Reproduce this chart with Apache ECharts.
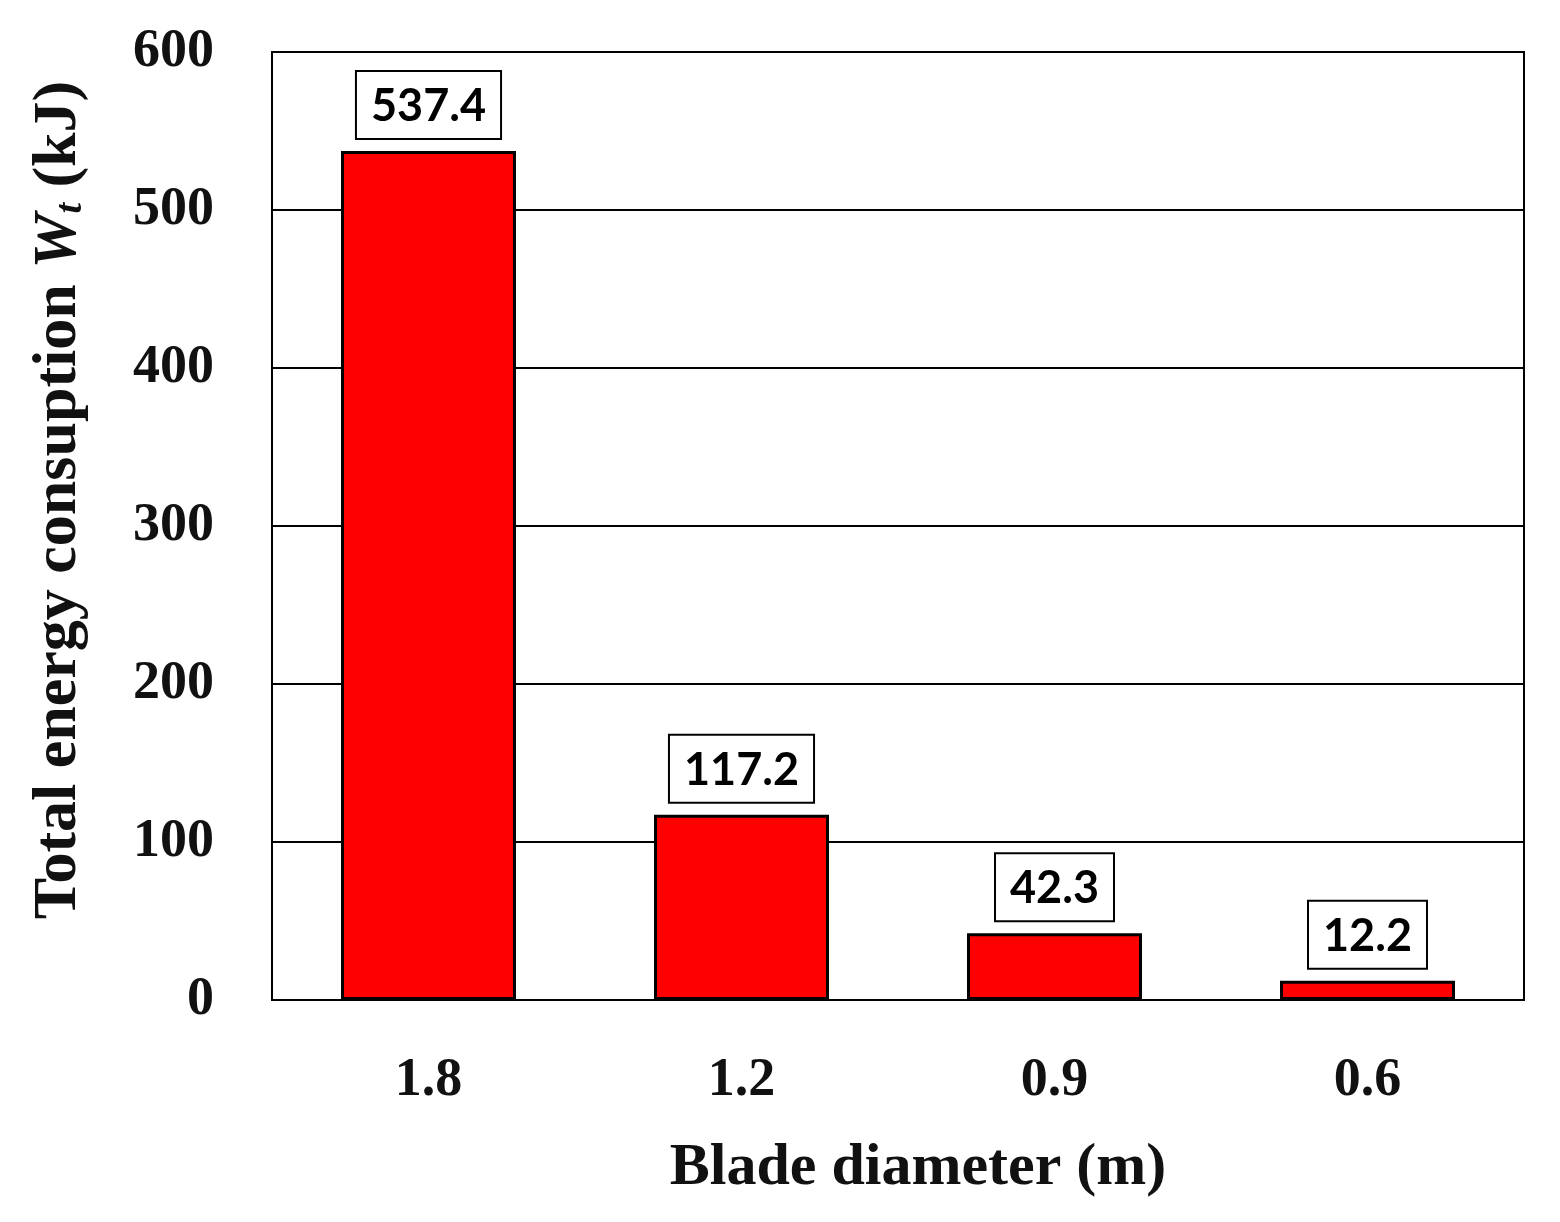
<!DOCTYPE html>
<html><head><meta charset="utf-8">
<script src="https://cdn.jsdelivr.net/npm/echarts@6/dist/echarts.min.js"></script>
<style>html,body{margin:0;padding:0;background:#fff}#c{width:1560px;height:1222px}</style>
</head><body><div id="c"></div>
<script>
const categories = ['1.8', '1.2', '0.9', '0.6'];
const energy = [537.4, 117.2, 42.3, 12.2];
const yTicks = [0, 100, 200, 300, 400, 500, 600];

const serif = 'Liberation Serif';
const chart = echarts.init(document.getElementById('c'));
chart.setOption({
  backgroundColor: '#fff',
  animation: false,
  grid: { left: 272, right: 36, top: 52, bottom: 222, show: true, borderColor: '#000', borderWidth: 2, backgroundColor: 'transparent' },
  xAxis: {
    type: 'category', data: categories,
    axisLine: { show: true, lineStyle: { color: '#000', width: 2 } },
    axisTick: { show: false },
    axisLabel: { margin: 54, color: '#111', fontFamily: serif, fontWeight: 'bold', fontSize: 54 },
    name: 'Blade diameter (m)', nameLocation: 'middle', nameGap: 138,
    nameTextStyle: { color: '#111', fontFamily: serif, fontWeight: 'bold', fontSize: 60, padding: [0, 0, 0, 40] }
  },
  yAxis: {
    type: 'value', min: yTicks[0], max: yTicks[yTicks.length - 1], interval: 100,
    axisLine: { show: true, lineStyle: { color: '#000', width: 2 } },
    axisTick: { show: false },
    splitLine: { show: true, lineStyle: { color: '#000', width: 2 } },
    axisLabel: { margin: 58, color: '#111', fontFamily: serif, fontWeight: 'bold', fontSize: 54 },
    name: 'Total energy consuption {i|W}{s|t} (kJ)', nameLocation: 'middle', nameGap: 182, nameRotate: 90,
    nameTextStyle: {
      color: '#111', fontFamily: serif, fontWeight: 'bold', fontSize: 62, padding: [0, 0, 0, 52],
      rich: {
        i: { fontFamily: serif, fontWeight: 'bold', fontStyle: 'italic', fontSize: 62, color: '#111' },
        s: { fontFamily: serif, fontWeight: 'bold', fontStyle: 'italic', fontSize: 38, color: '#111', verticalAlign: 'bottom', padding: [20, 0, 0, 0] }
      }
    }
  },
  series: [{
    type: 'bar', data: energy, barWidth: 175,
    itemStyle: { color: '#ff0000', borderColor: '#000', borderWidth: 3 },
    label: {
      show: true, position: 'top', distance: 13,
      color: '#000', fontFamily: 'Lato', fontWeight: 'bold', fontSize: 45,
      backgroundColor: '#fff', borderColor: '#000', borderWidth: 2,
      padding: [12, 14, 9, 14]
    }
  }]
});
</script></body></html>
